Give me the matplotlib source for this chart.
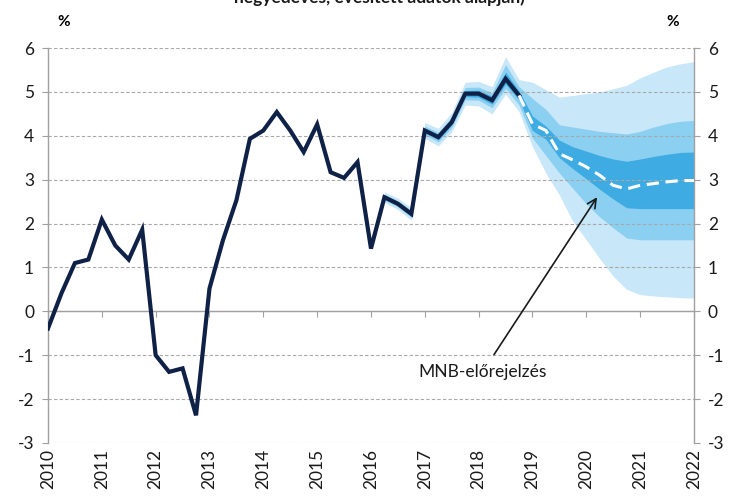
import matplotlib.pyplot as plt
import numpy as np

# GDP-novekedes es MNB-elorejelzes legyezoabraja (negyedeves adatok)
plt.rcParams['font.family'] = ['Lato', 'DejaVu Sans']
plt.rcParams['axes.unicode_minus'] = False

# tenyadatok 2010Q1 - 2018Q4 (%)
tény = [-0.39, 0.41, 1.10, 1.18,
        2.09, 1.50, 1.18, 1.86,
        -1.00, -1.38, -1.30, -2.37,
        0.52, 1.62, 2.53, 3.93,
        4.12, 4.54, 4.12, 3.63,
        4.26, 3.17, 3.04, 3.40,
        1.43, 2.60, 2.45, 2.22,
        4.12, 3.97, 4.31, 4.96,
        4.96, 4.81, 5.30, 4.92]

# elorejelzes 2018Q4 - 2022Q1
elorejelzes = [4.92, 4.27, 4.12, 3.59, 3.45, 3.29, 3.10,
               2.87, 2.79, 2.87, 2.91, 2.95, 2.98, 2.98]

# legyezo savok 2016Q2 - 2022Q1 (also / felso hatar)
sav_kezdet = 25
vilagos_fel = [2.72, 2.58, 2.36, 4.30, 4.17, 4.53, 5.22, 5.24, 5.12, 5.80,
               5.28, 5.22, 5.05, 4.88, 4.92, 4.96, 5.00, 5.07, 5.15, 5.32,
               5.45, 5.57, 5.64, 5.69]
vilagos_le = [2.48, 2.32, 2.08, 3.94, 3.77, 4.09, 4.70, 4.68, 4.50, 4.95,
              4.55, 3.75, 3.15, 2.65, 2.05, 1.63, 1.20, 0.80, 0.50, 0.38,
              0.35, 0.33, 0.31, 0.30]
kozep_fel = [2.67, 2.52, 2.30, 4.22, 4.08, 4.43, 5.10, 5.11, 4.98, 5.62,
             5.12, 4.85, 4.60, 4.25, 4.20, 4.15, 4.10, 4.07, 4.04, 4.10,
             4.20, 4.28, 4.33, 4.35]
kozep_le = [2.53, 2.38, 2.14, 4.02, 3.86, 4.19, 4.82, 4.81, 4.64, 5.08,
            4.70, 3.95, 3.55, 3.15, 2.80, 2.45, 2.15, 1.90, 1.67, 1.63,
            1.63, 1.63, 1.63, 1.63]
sotet_fel = [2.64, 2.49, 2.26, 4.17, 4.03, 4.37, 5.03, 5.04, 4.90, 5.45,
             5.02, 4.45, 4.22, 3.90, 3.75, 3.65, 3.55, 3.47, 3.42, 3.47,
             3.53, 3.58, 3.62, 3.63]
sotet_le = [2.56, 2.41, 2.18, 4.07, 3.91, 4.25, 4.89, 4.88, 4.72, 5.18,
            4.82, 4.12, 3.92, 3.50, 3.25, 3.02, 2.78, 2.56, 2.36, 2.34,
            2.34, 2.34, 2.34, 2.34]

evek = ['2010', '2011', '2012', '2013', '2014', '2015', '2016',
        '2017', '2018', '2019', '2020', '2021', '2022']

x_teny = 2010 + np.arange(len(tény)) / 4
x_elo = 2010 + (np.arange(len(elorejelzes)) + len(tény) - 1) / 4
x_sav = 2010 + (np.arange(len(vilagos_fel)) + sav_kezdet) / 4
x_evek = [int(e) for e in evek]

fig = plt.figure(figsize=(7.36, 4.97), dpi=100)
ax = fig.add_axes([0.0652, 0.1087, 0.8777, 0.7947])

ax.fill_between(x_sav, vilagos_le, vilagos_fel, color='#c8e7f8', lw=0, zorder=1)
ax.fill_between(x_sav, kozep_le, kozep_fel, color='#8bcff1', lw=0, zorder=1.1)
ax.fill_between(x_sav, sotet_le, sotet_fel, color='#3eabe2', lw=0, zorder=1.2)

ax.plot(x_teny, tény, color='#0f2147', lw=3.0, solid_joinstyle='miter', zorder=3)
ax.plot(x_elo, elorejelzes, color='white', lw=2.2, dashes=(4, 2.2), zorder=3)

ax.set_xlim(2010, 2022)
ax.set_ylim(-3, 6)
ax.set_yticks(range(-3, 7))

ax.set_axisbelow('line')
ax.yaxis.grid(True, linestyle=(0, (3, 2)), color='#a8a8a8', lw=0.8)

for s in ['left', 'right', 'bottom']:
    ax.spines[s].set_color('#a0a0a0')
    ax.spines[s].set_linewidth(1.0)
ax.spines['top'].set_visible(False)
ax.spines['bottom'].set_position(('data', 0))

ax.set_xticks(x_evek)
ax.tick_params(axis='x', direction='out', length=4, color='#a0a0a0', labelbottom=False)
ax.tick_params(axis='y', which='both', left=True, right=True, labelleft=True,
               labelright=True, direction='out', length=4, color='#a0a0a0',
               labelsize=12.5, labelcolor='#1a1a1a', pad=6)

sec = ax.secondary_xaxis('bottom')
sec.set_xticks(x_evek)
sec.set_xticklabels(evek)
sec.tick_params(length=0, labelrotation=90, labelsize=12.5, labelcolor='#1a1a1a', pad=4)
sec.spines['bottom'].set_visible(False)

ax.annotate('MNB-előrejelzés', xy=(2020.2, 2.6), xytext=(2018.07, -1.39),
            ha='center', va='center', fontsize=12.5, color='#1a1a1a',
            arrowprops=dict(arrowstyle='->', color='#1a1a1a', lw=1.2,
                            shrinkA=6, shrinkB=0, mutation_scale=16))

fig.text(0.086, 0.955, '%', fontsize=11, fontweight='bold', ha='center', va='center')
fig.text(0.914, 0.955, '%', fontsize=11, fontweight='bold', ha='center', va='center')
# a cim felso fele a kepen kivul esik, ahogy az eredetin is
fig.text(0.515, 1 - 3 / 497, 'negyedéves, évesített adatok alapján)',
         fontsize=12.5, fontweight='bold', ha='center', va='baseline', color='#1a1a1a')

fig.savefig('out.png', dpi=100)
